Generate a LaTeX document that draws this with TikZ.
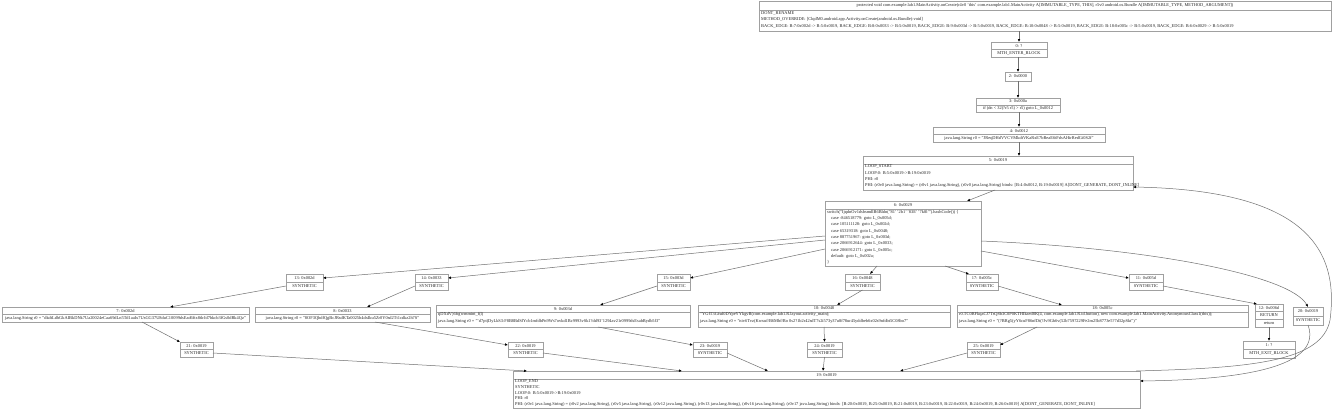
\documentclass[tikz,border=0pt]{standalone}
\usepackage{fontspec}
\setmainfont{Liberation Serif}
\usetikzlibrary{arrows.meta,calc}
\definecolor{boxc}{HTML}{A0A0A0}
\definecolor{edgec}{HTML}{707070}
\tikzset{
 gbox/.style={draw=boxc,line width=0.6pt,inner sep=0pt,outer sep=0pt,rectangle},
 gsep/.style={draw=boxc,line width=0.6pt},
 ttl/.style={inner sep=0pt,font=\fontsize{4.4}{5.4}\selectfont,text=black!85},
 bodyt/.style={inner sep=0pt,anchor=north west,align=left,font=\fontsize{4.4}{6.3}\selectfont,text=black!85},
 edge/.style={draw=edgec,line width=0.5pt,-{Latex[length=3pt,width=2.6pt,color=black]}},
}
\newcommand{\gvbox}[5]{\node[gbox,minimum width={#4-#2},minimum height={#5-#3}] (#1) at ({(#2+#4)/2},{(#3+#5)/2}) {};}
\newcommand{\gvsep}[3]{\draw[gsep] (#1,{#3}) -- (#2,{#3});}
\newcommand{\gvc}[6]{\node[ttl] (#1) at ({(#2+#3)/2},{(#4+#5)/2}) {#6};}
\newcommand{\gvsyn}[6]{%
 \gvbox{#1}{#2}{#3}{#4}{#5}
 \draw[gsep] (#2,{(#3+#5)/2}) -- (#4,{(#3+#5)/2});
 \node[ttl] (#1a) at ({(#2+#4)/2},{(3*#3+#5)/4}) {#6};
 \node[ttl] (#1b) at ({(#2+#4)/2},{(#3+3*#5)/4}) {SYNTHETIC};}
\begin{document}
\begin{tikzpicture}[x=1pt,y=-1pt]
\useasboundingbox[fill=white] (0,0) rectangle (1337,410);
% top box
\gvbox{T}{759}{1}{1331}{31}
\gvsep{759}{1331}{10}
\gvc{Tt}{759}{1331}{1}{10}{protected void com.example.lab1.MainActivity.onCreate(r4v0 'this' com.example.lab1.MainActivity A[IMMUTABLE\_TYPE, THIS], r5v0 android.os.Bundle A[IMMUTABLE\_TYPE, METHOD\_ARGUMENT])}
\node[bodyt] (Tb) at (761,11.5) {DONT\_RENAME\\METHOD\_OVERRIDE: [ClqdM0.android.app.Activity.onCreate(android.os.Bundle):void]\\BACK\_EDGE: B:7:0x002d -> B:5:0x0019, BACK\_EDGE: B:8:0x0033 -> B:5:0x0019, BACK\_EDGE: B:9:0x003d -> B:5:0x0019, BACK\_EDGE: B:10:0x0048 -> B:5:0x0019, BACK\_EDGE: B:18:0x005c -> B:5:0x0019, BACK\_EDGE: B:6:0x0029 -> B:5:0x0019};
% entry chain
\gvbox{n0}{991}{42}{1047}{57}
\gvsep{991}{1047}{49.5}
\gvc{n0a}{991}{1047}{42}{49.5}{0: ?}
\gvc{n0b}{991}{1047}{49.5}{57}{MTH\_ENTER\_BLOCK}
\gvbox{n2}{1005}{72}{1031}{81}
\gvc{n2a}{1005}{1031}{72}{81}{2: 0x0000}
\gvbox{n3}{976}{98}{1060}{112}
\gvsep{976}{1060}{105}
\gvc{n3a}{976}{1060}{98}{105}{3: 0x000a}
\gvc{n3b}{976}{1060}{105}{112}{if (dn < 32(?r5 r5) > r5) goto L\_0x0012}
\gvbox{n4}{933}{127}{1105}{142}
\gvsep{933}{1105}{134.5}
\gvc{n4a}{933}{1105}{127}{134.5}{4: 0x0012}
\gvc{n4b}{933}{1105}{134.5}{142}{java.lang.String r0 = "JReqDHdVVCVMkdtVKaRxE7bReaE6tFdsAHirRedGi0S2f"}
% loop start
\gvbox{n5}{863}{156}{1133}{190}
\gvsep{863}{1133}{164}
\gvc{n5a}{863}{1133}{156}{164}{5: 0x0019}
\node[bodyt] (n5b) at (865,164.8) {LOOP\_START\\LOOP:0: B:5:0x0019->B:19:0x0019\\PHI: r0 \\PHI: (r0v0 java.lang.String) = (r0v1 java.lang.String), (r0v0 java.lang.String) binds: [B:4:0x0012, B:19:0x0019] A[DONT\_GENERATE, DONT\_INLINE]};
% switch
\gvbox{n6}{825}{201}{981}{266}
\gvsep{825}{981}{209}
\gvc{n6a}{825}{981}{201}{209}{6: 0x0029}
\node[bodyt] (n6b) at (827,210) {switch("IjqdnOv1dsbsmdlB6Bldn(\textquotedbl 81'\,'2b1'\,'83E'\,'7k8l'").hashCode()) \{\\
\hspace*{4pt}case -846518779: goto L\_0x005d;\\
\hspace*{4pt}case 105111128: goto L\_0x002d;\\
\hspace*{4pt}case 65319318: goto L\_0x0048;\\
\hspace*{4pt}case 887751967: goto L\_0x003d;\\
\hspace*{4pt}case 2066912644: goto L\_0x0033;\\
\hspace*{4pt}case 2066912171: goto L\_0x005c;\\
\hspace*{4pt}default: goto L\_0x002a;\\
\}};
% synthetic row 1
\gvsyn{s13}{286}{274}{323}{290}{13: 0x002d}
\gvsyn{s14}{415}{274}{448}{290}{14: 0x0033}
\gvsyn{s15}{657}{274}{690}{290}{15: 0x003d}
\gvsyn{s16}{845}{274}{880}{290}{16: 0x0048}
\gvsyn{s17}{966}{274}{998}{290}{17: 0x005c}
\gvsyn{s11}{1129}{274}{1163}{290}{11: 0x005d}
\gvsyn{s20}{1293}{307}{1323}{325}{20: 0x0019}
% case blocks
\gvbox{n7}{2}{307}{249}{322}
\gvsep{2}{249}{314.5}
\gvc{n7a}{2}{249}{307}{314.5}{7: 0x002d}
\gvc{n7b}{2}{249}{314.5}{322}{java.lang.String r0 = "dkdtLdbGkAIBkDNk7Ua20024eCaa69dLn5Td1aaIx7UsGG37U8duC10099dsEad6ftx8tlrJd7hkcb3fGs0dRk4Qz"}
\gvbox{n8}{255}{307}{430}{322}
\gvsep{255}{430}{314.5}
\gvc{n8a}{255}{430}{307}{314.5}{8: 0x0033}
\gvc{n8b}{255}{430}{314.5}{322}{java.lang.String r0 = "8OF3QhdfQgBcJRsdKTa0025h4dxIku5Zr0Y0sd2Tt1cdkz2h7S"}
\gvbox{n9}{436}{305}{690}{327}
\gvsep{436}{690}{312}
\gvc{n9a}{436}{690}{305}{312}{9: 0x003d}
\node[bodyt] (n9b) at (438,312.6) {qDXdV)6fq(wmmint\_f(l)\\java.lang.String r0 = "'d7pt(DyLkS3:F8B8BdSfYcb1mfdbPn9Ws7ovkd1Bc9993vSk1?dd93'1294av21r0999dsEsabBydb5f3"};
\gvbox{n10}{698}{305}{950}{327}
\gvsep{698}{950}{312}
\gvc{n10a}{698}{950}{305}{312}{10: 0x0048}
\node[bodyt] (n10b) at (700,312.6) {"YGfT3Gfsd0DYpeYYkgvB(com.example.lab1.R.layout.activity\_main);\\java.lang.String r0 = "niv6Tvz(Kwxuf/B6Mbf/Bo 0s2?1b2r42sdT7s2i573y37u8f78ur45yddbeb6x02s9nfdbt5C08bo7"};
\gvbox{n18}{957}{305}{1248}{327}
\gvsep{957}{1248}{312}
\gvc{n18a}{957}{1248}{305}{312}{18: 0x005c}
\node[bodyt] (n18b) at (959,312.6) {r0.TC0RFkqaCJ7TsQ8b3C0P0KTHIkaed8K(4, com.example.lab1.R.id.button), new com.example.lab1.MainActivity.AnonymousClass1(this));\\java.lang.String r0 = "(?BRg5(yY6cuF86nfDt(?Jv9Gh6v(52b7597229Fe2m25b8773e5?7d32pSkt")"};
% return
\gvbox{n12}{1255}{304}{1283}{327}
\gvsep{1255}{1283}{311.7}
\gvsep{1255}{1283}{319.3}
\gvc{n12a}{1255}{1283}{304}{311.7}{12: 0x006d}
\gvc{n12b}{1255}{1283}{311.7}{319.3}{RETURN}
\gvc{n12c}{1255}{1283}{319.3}{327}{return}
\gvbox{n1}{1243}{341}{1295}{358}
\gvsep{1243}{1295}{349.5}
\gvc{n1a}{1243}{1295}{341}{349.5}{1: ?}
\gvc{n1b}{1243}{1295}{349.5}{358}{MTH\_EXIT\_BLOCK}
% synthetic row 2
\gvsyn{sA}{180}{342}{213}{357}{21: 0x0019}
\gvsyn{sB}{508}{342}{543}{357}{22: 0x0019}
\gvsyn{sC}{693}{342}{727}{357}{23: 0x0019}
\gvsyn{sD}{807}{342}{842}{357}{24: 0x0019}
\gvsyn{sE}{967}{342}{1000}{357}{25: 0x0019}
% loop end
\gvbox{n19}{513}{371}{1140}{408}
\gvsep{513}{1140}{379}
\gvc{n19a}{513}{1140}{371}{379}{19: 0x0019}
\node[bodyt,font=\fontsize{4.4}{5.7}\selectfont] (n19b) at (515,379.6) {LOOP\_END\\SYNTHETIC\\LOOP:0: B:5:0x0019->B:19:0x0019\\PHI: r0 \\PHI: (r0v1 java.lang.String) = (r0v2 java.lang.String), (r0v5 java.lang.String), (r0v12 java.lang.String), (r0v13 java.lang.String), (r0v16 java.lang.String), (r0v17 java.lang.String) binds: [B:20:0x0019, B:25:0x0019, B:21:0x0019, B:23:0x0019, B:22:0x0019, B:24:0x0019, B:26:0x0019] A[DONT\_GENERATE, DONT\_INLINE]};
% edges
\draw[edge] (T.south -| n0.north) -- (n0.north);
\draw[edge] (n0.south -| n2.north) -- (n2.north);
\draw[edge] (n2.south -| n3.north) -- (n3.north);
\draw[edge] (n3.south -| n4.north) -- (n4.north);
\draw[edge] (n4.south) -- (n4.south |- n5.north);
\draw[edge] ($(n5.south west)+(132,0)$) -- ($(n6.north west)+(142,0)$);
\draw[edge] ($(n6.north west)+(0,35)$) -- ($(s13.north east)+(0,4)$);
\draw[edge] ($(n6.north west)+(0,39)$) -- ($(s14.north east)+(0,4)$);
\draw[edge] ($(n6.north west)+(0,48)$) -- ($(s15.north east)+(0,4)$);
\draw[edge] ($(n6.south west)+(52,0)$) -- ($(s16.north west)+(25,0)$);
\draw[edge] ($(n6.south west)+(120,0)$) -- ($(s17.north west)+(3,0)$);
\draw[edge] ($(n6.north east)+(0,50)$) -- ($(s11.north west)+(0,4)$);
\draw[edge] ($(n6.north east)+(0,40)$) .. controls (1150,248) and (1290,275) .. (s20.north);
\draw[edge] ($(s13.south west)+(0,-4)$) -- ($(n7.north west)+(168,0)$);
\draw[edge] ($(s14.south west)+(0,-4)$) -- ($(n8.north west)+(112,0)$);
\draw[edge] ($(s15.south west)+(0,-4)$) -- ($(n9.north west)+(164,0)$);
\draw[edge] (s16.south) -- ($(n10.north west)+(139,0)$);
\draw[edge] ($(s17.south east)+(0,-4)$) -- ($(n18.north west)+(105,0)$);
\draw[edge] ($(s11.south east)+(0,-4)$) -- ($(n12.north west)+(2,0)$);
\draw[edge] (n12.south) -- (n12.south |- n1.north);
\draw[edge] ($(n7.south west)+(140,0)$) -- (sA.north west);
\draw[edge] ($(n8.south west)+(120,0)$) -- ($(sB.north west)+(0,3)$);
\draw[edge] ($(n9.south west)+(162,0)$) -- ($(sC.north west)+(0,3)$);
\draw[edge] (n10.south) -- (sD.north);
\draw[edge] ($(n18.south west)+(80,0)$) -- ($(sE.north east)+(0,3)$);
\draw[edge] ($(sA.south east)+(0,-4)$) -- ($(n19.north west)+(14,0)$);
\draw[edge] ($(sB.south east)+(0,-4)$) -- ($(n19.north west)+(169,0)$);
\draw[edge] ($(sC.south east)+(0,-4)$) -- ($(n19.north west)+(255,0)$);
\draw[edge] (sD.south) -- ($(n19.north west)+(310,0)$);
\draw[edge] ($(sE.south west)+(0,-4)$) -- ($(n19.north west)+(387,0)$);
\draw[edge] (s20.south) .. controls (1325,372) and (1220,380) .. ($(n19.north east)+(0,10)$);
\draw[edge] ($(n19.north east)+(-4,0)$) .. controls (1250,368) and (1322,362) .. (1330,320) .. controls (1340,245) and (1300,190) .. ($(n5.south east)+(0,-3)$);
\end{tikzpicture}
\end{document}
